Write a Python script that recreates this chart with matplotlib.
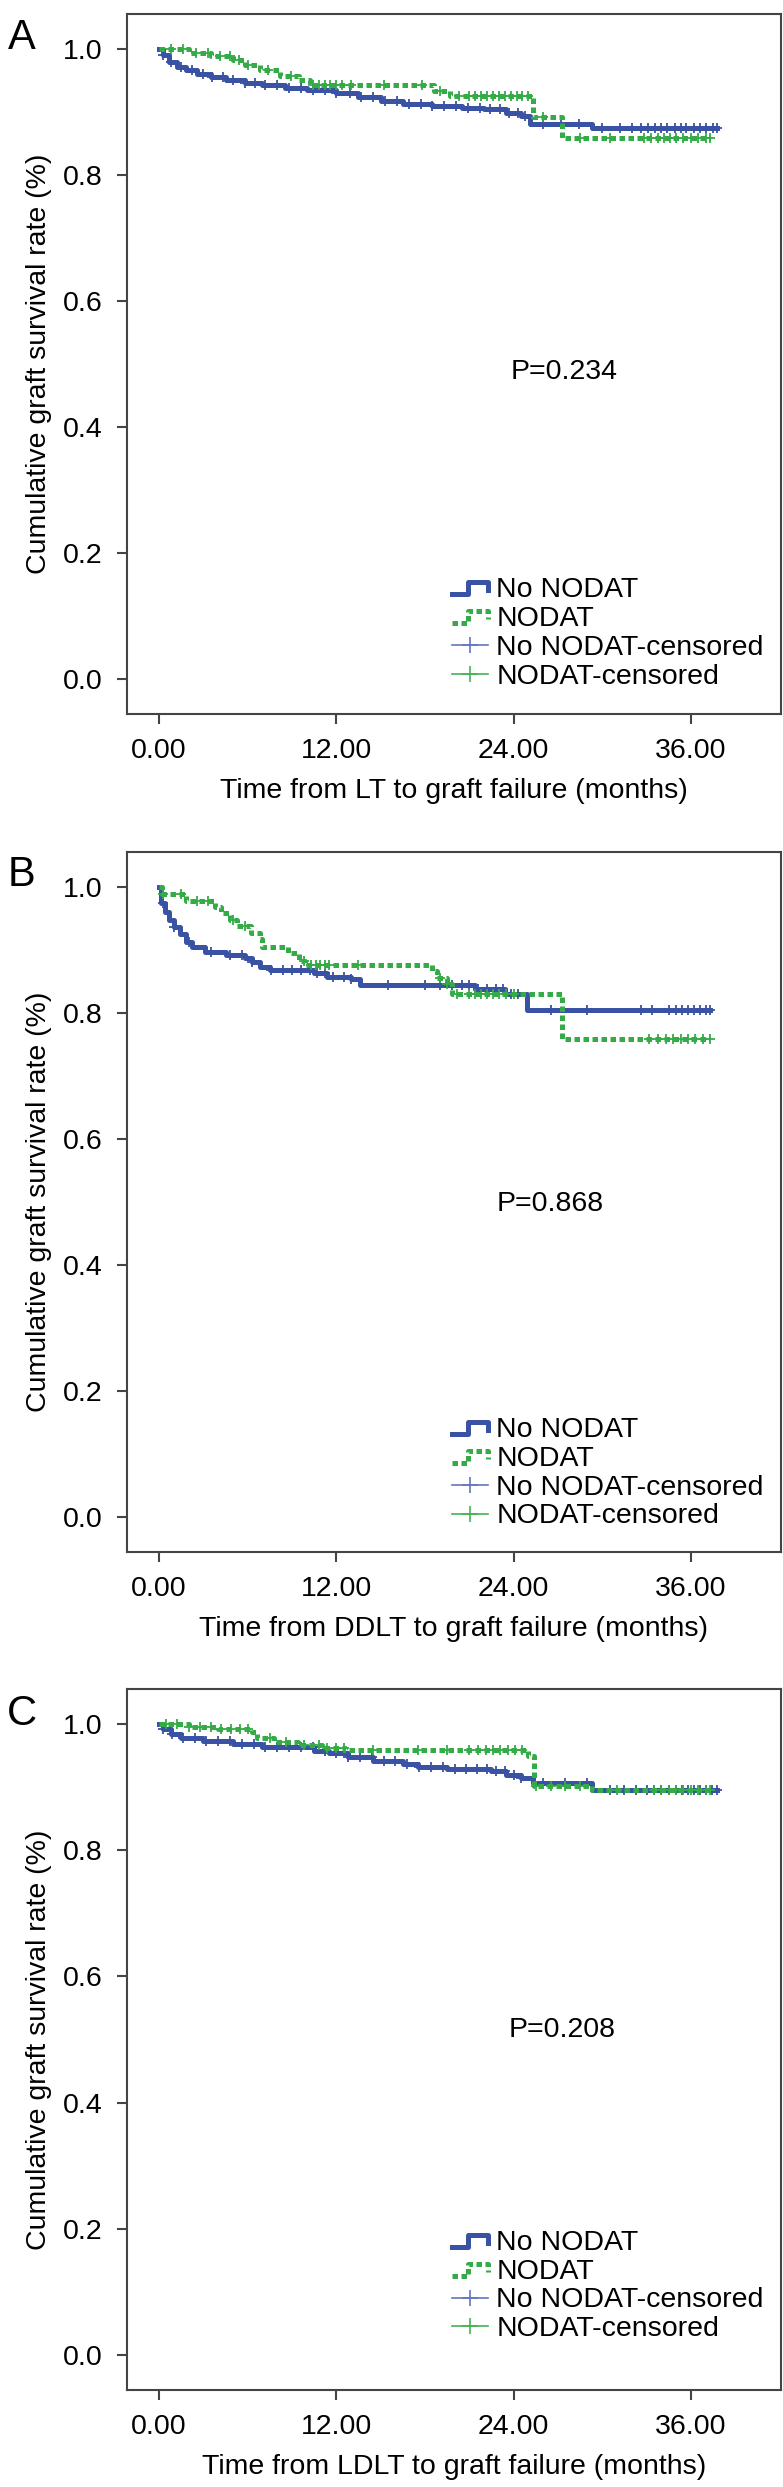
import numpy as np
import matplotlib
matplotlib.use("Agg")
import matplotlib.pyplot as plt
from matplotlib.lines import Line2D
from matplotlib.legend_handler import HandlerBase

plt.rcParams['font.family'] = ['Liberation Sans', 'DejaVu Sans']

# ---- data ----
panel_letters = ["A", "B", "C"]
xlabels = ["Time from LT to graft failure (months)",
           "Time from DDLT to graft failure (months)",
           "Time from LDLT to graft failure (months)"]
p_values = ["P=0.234", "P=0.868", "P=0.208"]
legend_labels = ["No NODAT", "NODAT", "No NODAT-censored", "NODAT-censored"]
xticks = [0, 12, 24, 36]
yticks = [0.0, 0.2, 0.4, 0.6, 0.8, 1.0]

# panel A
a_no_t = [0, 0.3, 0.7, 1.2, 1.8, 2.6, 3.5, 4.5, 5.8, 7.0, 8.5, 10.0, 12.0, 13.5,
          15.0, 16.5, 18.5, 20.5, 22.0, 23.5, 24.5, 25.1, 29.3, 37.8]
a_no_s = [1.000, 0.990, 0.980, 0.972, 0.966, 0.960, 0.955, 0.951, 0.946, 0.942, 0.938,
          0.935, 0.930, 0.924, 0.918, 0.913, 0.910, 0.907, 0.904, 0.898, 0.893, 0.881,
          0.874, 0.874]
a_yes_t = [0, 2.0, 3.5, 5.0, 5.8, 6.8, 8.2, 9.5, 10.2, 18.6, 19.7, 25.3, 27.3, 37.3]
a_yes_s = [1.000, 0.994, 0.989, 0.982, 0.975, 0.966, 0.957, 0.950, 0.943, 0.933,
           0.925, 0.892, 0.858, 0.858]
a_no_cens = [0.3, 0.8, 1.5, 2.2, 3.0, 3.6, 4.3, 5.0, 5.8, 6.5, 7.2, 8.0, 8.8, 9.6, 10.4,
             11.2, 12.0, 12.9, 13.7, 14.5, 15.3, 16.1, 16.9, 17.7, 18.5, 19.3, 20.1,
             20.9, 21.7, 22.4, 23.1, 23.7, 24.3, 24.8, 26.0, 27.2, 28.4, 30.0, 31.2,
             32.0, 32.6, 33.1, 33.6, 34.0, 34.4, 34.9, 35.3, 35.7, 36.2, 36.6, 37.0,
             37.5, 37.8]
a_yes_cens = [0.8, 1.6, 2.5, 3.3, 4.1, 4.8, 5.4, 6.0, 7.4, 8.9, 10.4, 10.8, 11.2, 11.6,
              12.0, 12.4, 13.0, 15.2, 17.8, 19.0, 20.3, 21.0, 21.4, 21.8, 22.2, 22.6,
              23.0, 23.4, 23.8, 24.2, 24.6, 25.0, 26.0, 28.5, 30.5, 32.8, 33.3, 33.8,
              34.2, 34.6, 35.0, 35.5, 36.0, 36.5, 37.0, 37.3]

# panel B
b_no_t = [0, 0.15, 0.4, 0.7, 1.0, 1.4, 1.8, 2.2, 3.1, 4.5, 5.8, 6.3, 6.8, 7.5, 10.5,
          11.4, 13.0, 13.6, 21.4, 23.4, 24.9, 37.3]
b_no_s = [1.000, 0.975, 0.960, 0.948, 0.937, 0.925, 0.913, 0.904, 0.896, 0.892, 0.887,
          0.881, 0.873, 0.868, 0.863, 0.857, 0.853, 0.844, 0.838, 0.830, 0.805, 0.805]
b_yes_t = [0, 0.2, 1.8, 3.8, 4.2, 4.8, 5.3, 6.2, 6.8, 7.0, 8.7, 9.5, 9.9, 18.5, 18.8,
           19.5, 19.8, 27.3, 37.3]
b_yes_s = [1.000, 0.988, 0.978, 0.968, 0.958, 0.948, 0.938, 0.927, 0.917, 0.905, 0.895,
           0.883, 0.876, 0.866, 0.855, 0.845, 0.830, 0.759, 0.759]
b_no_cens = [0.3, 1.0, 2.0, 3.5, 4.8, 5.6, 6.3, 7.6, 8.4, 9.0, 9.6, 10.2, 10.7, 11.2,
             11.8, 12.5, 13.0, 15.5, 18.0, 19.0, 19.8, 20.5, 21.0, 21.6, 22.2, 22.8,
             23.3, 23.8, 24.3, 26.5, 29.0, 32.6, 33.4, 34.5, 35.0, 35.4, 35.8, 36.2,
             36.6, 37.0, 37.3]
b_yes_cens = [0.3, 1.5, 2.6, 3.3, 5.0, 5.8, 9.8, 10.3, 10.6, 10.9, 11.2, 11.5, 13.5,
              19.0, 19.5, 20.2, 21.0, 21.4, 21.8, 22.2, 22.6, 23.0, 23.5, 24.0, 33.2,
              33.8, 34.3, 34.8, 35.3, 35.8, 36.3, 36.8, 37.3]

# panel C
c_no_t = [0, 0.3, 0.8, 1.5, 3.0, 5.0, 7.0, 10.5, 11.5, 12.8, 14.5, 16.5, 17.5, 19.5,
          22.5, 23.5, 24.5, 25.3, 29.3, 37.8]
c_no_s = [1.000, 0.992, 0.984, 0.978, 0.973, 0.968, 0.964, 0.958, 0.954, 0.947, 0.942,
          0.936, 0.932, 0.928, 0.925, 0.919, 0.914, 0.906, 0.896, 0.896]
c_yes_t = [0, 2.0, 4.0, 6.3, 6.6, 7.8, 9.4, 11.0, 12.6, 25.0, 25.4, 29.3, 37.3]
c_yes_s = [1.000, 0.996, 0.992, 0.987, 0.978, 0.971, 0.966, 0.962, 0.959, 0.950, 0.902,
           0.896, 0.896]
c_no_cens = [0.3, 0.9, 1.6, 2.4, 3.2, 4.0, 4.8, 5.6, 6.4, 7.2, 8.0, 8.8, 9.6, 10.4, 11.2,
             12.0, 12.8, 13.6, 14.4, 15.2, 16.0, 16.8, 17.6, 18.4, 19.2, 20.0, 20.8,
             21.5, 22.2, 22.8, 23.4, 24.0, 24.5, 26.0, 27.5, 29.0, 30.5, 31.5, 32.3,
             33.0, 33.5, 34.0, 34.5, 35.0, 35.4, 35.8, 36.2, 36.6, 37.0, 37.4, 37.8]
c_yes_cens = [0.5, 1.2, 2.0, 2.8, 3.5, 4.2, 4.9, 5.5, 6.0, 7.5, 8.6, 9.8, 10.8, 11.4,
              12.0, 12.5, 14.5, 17.5, 19.5, 21.0, 21.6, 22.1, 22.6, 23.1, 23.6, 24.1,
              24.6, 25.5, 26.5, 27.5, 28.5, 31.0, 33.5, 34.0, 34.5, 35.0, 35.5, 36.0,
              36.5, 37.0, 37.3]

panels = [
    (a_no_t, a_no_s, a_no_cens, a_yes_t, a_yes_s, a_yes_cens),
    (b_no_t, b_no_s, b_no_cens, b_yes_t, b_yes_s, b_yes_cens),
    (c_no_t, c_no_s, c_no_cens, c_yes_t, c_yes_s, c_yes_cens),
]

# ---- style ----
blue = "#3a52a3"
green = "#34ab47"
blue_c = "#6577bd"
green_c = "#45b455"
frame = "#444444"
fs = 20.5
green_ls = (0, (1.1, 0.7))

p_pos = [(27.4, 0.488), (26.5, 0.496), (27.3, 0.515)]
leg_y = [0.035, 0.032, 0.068]
axes_rect = [[0.1622, 0.7129, 0.8352, 0.2815],
             [0.1622, 0.3760, 0.8352, 0.2815],
             [0.1622, 0.0390, 0.8352, 0.2819]]
letter_y = [0.9847, 0.6482, 0.3108]


class StepHandler(HandlerBase):
    def create_artists(self, legend, orig_handle, xdescent, ydescent, width,
                       height, fontsize, trans):
        xs = np.array([0.0, 0.45, 0.45, 1.0, 1.0]) * width - xdescent
        ys = np.array([0.15, 0.15, 0.75, 0.75, 0.35]) * height - ydescent
        ln = Line2D(xs, ys, color=orig_handle.get_color(),
                    lw=orig_handle.get_linewidth(),
                    linestyle=orig_handle.get_linestyle())
        if orig_handle.get_linestyle() != '-':
            ln.set_linestyle(green_ls)
        ln.set_transform(trans)
        return [ln]


def surv_at(t, s, c):
    idx = np.searchsorted(np.asarray(t), np.asarray(c), side='right') - 1
    return np.asarray(s)[idx]


fig = plt.figure(figsize=(7.83, 24.87), dpi=100)

for i, (nt, ns, nc, yt, ys, yc) in enumerate(panels):
    ax = fig.add_axes(axes_rect[i])
    ax.step(nt, ns, where='post', color=blue, lw=3.6, zorder=3)
    ax.plot(nc, surv_at(nt, ns, nc), ls='none', marker='+', ms=7, mew=1.3,
            color=blue, zorder=3)
    ax.step(yt, ys, where='post', color=green, lw=3.6, linestyle=green_ls, zorder=4)
    ax.plot(yc, surv_at(yt, ys, yc), ls='none', marker='+', ms=7, mew=1.3,
            color=green, zorder=4)

    ax.set_xlim(-2.17, 42.1)
    ax.set_ylim(-0.0556, 1.0556)
    ax.set_xticks(xticks)
    ax.set_xticklabels([f"{v:.2f}" for v in xticks])
    ax.set_yticks(yticks)
    ax.set_yticklabels([f"{v:.1f}" for v in yticks])
    for sp in ax.spines.values():
        sp.set_color(frame)
        sp.set_linewidth(1.5)
    ax.tick_params(direction='out', length=7.5, width=1.5, color=frame,
                   labelsize=fs, pad=10)
    ax.set_xlabel(xlabels[i], fontsize=fs, labelpad=10)
    ax.set_ylabel("Cumulative graft survival rate (%)", fontsize=fs, labelpad=8)
    ax.text(p_pos[i][0], p_pos[i][1], p_values[i], fontsize=fs,
            ha='center', va='center')

    h1 = Line2D([], [], color=blue, lw=3.6, linestyle='-')
    h2 = Line2D([], [], color=green, lw=3.6, linestyle=':')
    h3 = Line2D([], [], color=blue_c, lw=1.2, marker='+', ms=12, mew=1.2)
    h4 = Line2D([], [], color=green_c, lw=1.2, marker='+', ms=12, mew=1.2)
    ax.legend([h1, h2, h3, h4], legend_labels, loc='lower left',
              bbox_to_anchor=(0.497, leg_y[i]), frameon=False, fontsize=fs,
              handlelength=1.25, handletextpad=0.3, labelspacing=0.1,
              borderpad=0, borderaxespad=0,
              handler_map={h1: StepHandler(), h2: StepHandler()})

    fig.text(0.028, letter_y[i], panel_letters[i], fontsize=30,
             ha='center', va='center')

fig.savefig("out.png", dpi=100)
